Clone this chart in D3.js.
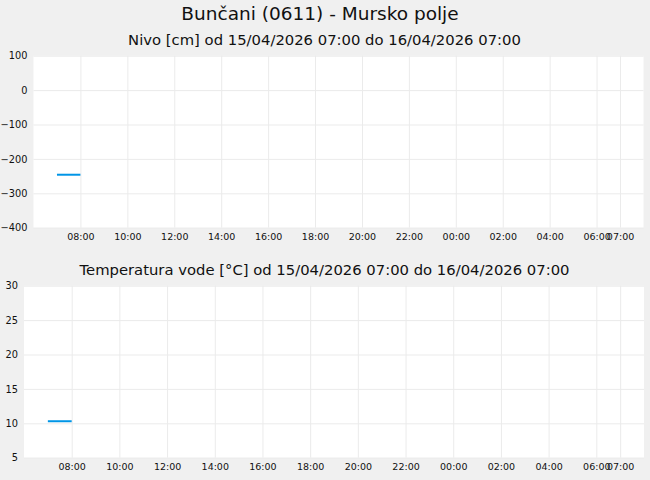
<!DOCTYPE html>
<html>
<head>
<meta charset="utf-8">
<script src="https://cdn.jsdelivr.net/npm/d3@7"></script>
<style>
html,body{margin:0;padding:0;background:#f0f0f0;}
svg{display:block;font-family:"DejaVu Sans",sans-serif;}
</style>
</head>
<body>
<svg id="c" width="650" height="480"></svg>
<script>
const title = "Bunčani (0611) - Mursko polje";
const nivoTitle = "Nivo [cm] od 15/04/2026 07:00 do 16/04/2026 07:00";
const tempTitle = "Temperatura vode [°C] od 15/04/2026 07:00 do 16/04/2026 07:00";

const nivoTimes = ["2026-04-15T07:00", "2026-04-15T08:00"];
const nivoValues = [-246, -246];
const tempTimes = ["2026-04-15T07:00", "2026-04-15T08:00"];
const tempValues = [10.3, 10.3];

const xDomain = ["2026-04-15T06:00", "2026-04-16T08:00"];
const xTickTimes = ["2026-04-15T08:00","2026-04-15T10:00","2026-04-15T12:00","2026-04-15T14:00",
  "2026-04-15T16:00","2026-04-15T18:00","2026-04-15T20:00","2026-04-15T22:00","2026-04-16T00:00",
  "2026-04-16T02:00","2026-04-16T04:00","2026-04-16T06:00","2026-04-16T07:00"];
const nivoTicks = [100, 0, -100, -200, -300, -400];
const tempTicks = [30, 25, 20, 15, 10, 5];

const parse = d3.isoParse;
const svg = d3.select("#c");

svg.append("text").attr("x", 320).attr("y", 20).attr("text-anchor", "middle")
  .attr("font-size", 18.5).attr("fill", "#111").text(title);

function drawChart(cfg) {
  const g = svg.append("g");
  const x = d3.scaleTime().domain(xDomain.map(parse)).range([cfg.left, cfg.right]);
  const y = d3.scaleLinear().domain(cfg.yDomain).range([cfg.bottom, cfg.top]);
  g.append("rect").attr("x", cfg.left).attr("y", cfg.top)
    .attr("width", cfg.right - cfg.left).attr("height", cfg.bottom - cfg.top).attr("fill", "#fff");

  const ya = g.append("g").attr("transform", `translate(${cfg.left},0)`)
    .call(d3.axisLeft(y).tickValues(cfg.ticks).tickSize(-(cfg.right - cfg.left)).tickPadding(6));
  ya.select(".domain").remove();
  ya.selectAll("line").attr("stroke", "#ebebeb");
  ya.selectAll("text").attr("font-size", 9.8).attr("fill", "#111").attr("font-family", "DejaVu Sans");

  const xa = g.append("g").attr("transform", `translate(0,${cfg.bottom})`)
    .call(d3.axisBottom(x).tickValues(xTickTimes.map(parse)).tickFormat(d3.timeFormat("%H:%M"))
      .tickSize(-(cfg.bottom - cfg.top)).tickPadding(6));
  xa.select(".domain").remove();
  xa.selectAll("line").attr("stroke", "#ebebeb");
  xa.selectAll("text").attr("font-size", 9.5).attr("fill", "#111").attr("font-family", "DejaVu Sans");

  const data = cfg.times.map((t, i) => ({t: parse(t), v: cfg.values[i]}));
  g.append("path").datum(data)
    .attr("d", d3.line().x(d => x(d.t)).y(d => y(d.v)))
    .attr("fill", "none").attr("stroke", "#0095e6").attr("stroke-width", 2);

  svg.append("text").attr("x", 324.5).attr("y", cfg.titleY).attr("text-anchor", "middle")
    .attr("font-size", 14.8).attr("fill", "#111").text(cfg.title);
}

drawChart({left: 33.5, right: 643.5, top: 55.7, bottom: 227.7, yDomain: [-400, 100],
  ticks: nivoTicks, times: nivoTimes, values: nivoValues, title: nivoTitle, titleY: 45});
drawChart({left: 24, right: 644, top: 285.7, bottom: 457.7, yDomain: [5, 30],
  ticks: tempTicks, times: tempTimes, values: tempValues, title: tempTitle, titleY: 275});
</script>
</body>
</html>
